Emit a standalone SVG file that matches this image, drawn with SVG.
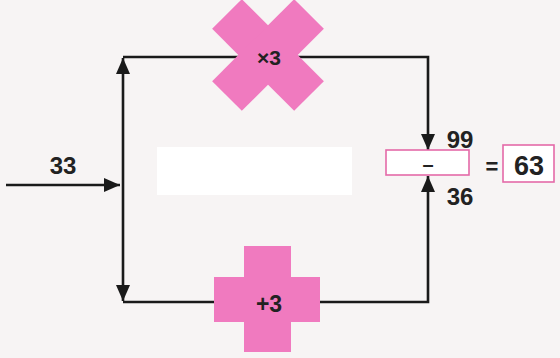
<svg xmlns="http://www.w3.org/2000/svg" width="560" height="358" viewBox="0 0 560 358">
<defs>
<style>
.ln{stroke:#1a1a1a;stroke-width:2.6;fill:none}
.pk{fill:#f07abf}
.t{font-family:"Liberation Sans",Arial,sans-serif;font-weight:bold;fill:#222}
.box{fill:#fff;stroke:#e46aa8;stroke-width:1.6}
</style>
<marker id="ahL" markerWidth="16" markerHeight="16" refX="16" refY="8" orient="auto" markerUnits="userSpaceOnUse" viewBox="0 0 16 16">
<path d="M0,1 L16,8 L0,15 Z" fill="#1a1a1a"/>
</marker>
</defs>
<rect width="560" height="358" fill="#f7f4f4"/>
<rect x="157" y="147" width="195" height="48" fill="#ffffff"/>
<g id="connectors">
<path class="ln" d="M6,185 L120,185" marker-end="url(#ahL)"/>
<path class="ln" d="M123,185 L123,58" marker-end="url(#ahL)"/>
<path class="ln" d="M123,185 L123,301" marker-end="url(#ahL)"/>
<path class="ln" d="M123,57 L428,57 L428,150" marker-end="url(#ahL)"/>
<path class="ln" d="M123,302 L428,302 L428,176" marker-end="url(#ahL)"/>
</g>
<g id="times3">
<rect class="pk" x="210" y="34" width="116" height="42" transform="rotate(45 268 55)"/>
<rect class="pk" x="210" y="34" width="116" height="42" transform="rotate(-45 268 55)"/>
<text class="t" x="269" y="65" font-size="21" text-anchor="middle">×3</text>
</g>
<g id="plus3">
<rect class="pk" x="244" y="246" width="47" height="106"/>
<rect class="pk" x="214" y="277" width="106" height="45"/>
<text class="t" x="269" y="312" font-size="23" text-anchor="middle">+3</text>
</g>
<g id="input">
<text class="t" x="63" y="174" font-size="24" text-anchor="middle">33</text>
</g>
<g id="minus">
<rect class="box" x="386" y="150" width="83" height="25"/>
<text class="t" x="428" y="171" font-size="20" text-anchor="middle">–</text>
<text class="t" x="460" y="148" font-size="24" text-anchor="middle">99</text>
<text class="t" x="460" y="205" font-size="24" text-anchor="middle">36</text>
</g>
<g id="result">
<text class="t" x="492" y="174" font-size="22" text-anchor="middle">=</text>
<rect class="box" x="503" y="145" width="51" height="37"/>
<text class="t" x="529" y="175" font-size="27" text-anchor="middle">63</text>
</g>
</svg>
